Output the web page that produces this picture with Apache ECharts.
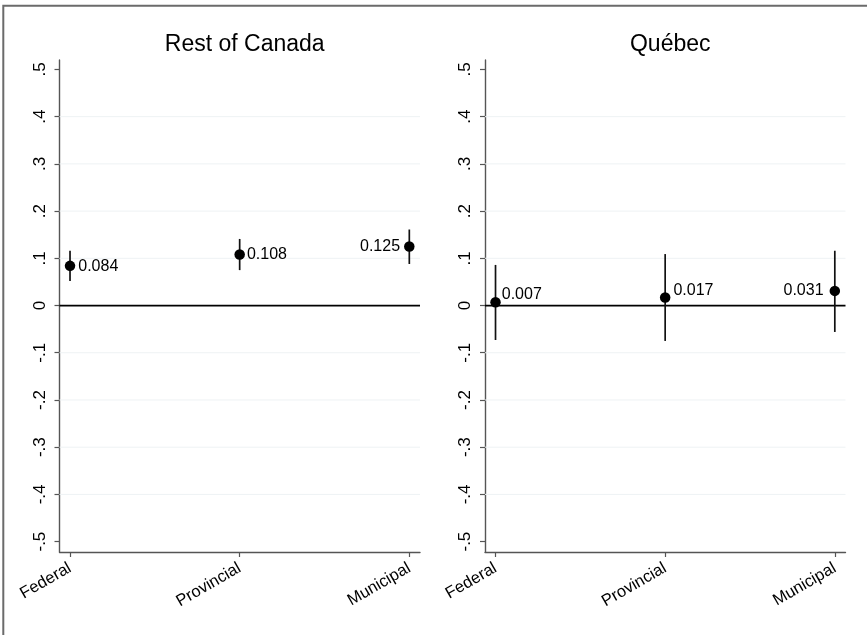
<!DOCTYPE html>
<html>
<head>
<meta charset="utf-8">
<title>Rest of Canada / Québec</title>
<script src="https://cdn.jsdelivr.net/npm/echarts@6/dist/echarts.min.js"></script>
<style>
  html, body { margin: 0; padding: 0; background: #fff; }
  #chart { width: 867px; height: 635px; }
</style>
</head>
<body>
<div id="chart"></div>
<script>
// Levels of government on the horizontal axis
const categories = ['Federal', 'Provincial', 'Municipal'];

// Point estimates with 95% confidence bounds, Rest of Canada
const canadaEst = [0.084, 0.108, 0.125];
const canadaLo = [0.052, 0.075, 0.088];
const canadaHi = [0.116, 0.141, 0.161];

// Point estimates with 95% confidence bounds, Québec
const quebecEst = [0.007, 0.017, 0.031];
const quebecLo = [-0.073, -0.075, -0.056];
const quebecHi = [0.086, 0.109, 0.116];

// Vertical axis ticks and light reference lines
const yTicks = [-0.5, -0.4, -0.3, -0.2, -0.1, 0, 0.1, 0.2, 0.3, 0.4, 0.5];
const yGrid = [-0.4, -0.3, -0.2, -0.1, 0.1, 0.2, 0.3, 0.4];
const zeroLine = [0];
const xTicks = [1, 2, 3];

const FONT = '"Liberation Sans", Arial, Helvetica, sans-serif';
const AXIS_COLOR = '#555555';

// Stata-style tick text: ".5", "-.3", "0"
function fmtTick(v) {
  const r = Math.round(v * 10) / 10;
  if (r === 0) return '0';
  return String(r).replace('0.', '.');
}

const panels = [
  { title: 'Rest of Canada', est: canadaEst, lo: canadaLo, hi: canadaHi, left: 59.5,
    labels: [
      { position: 'right', distance: 3, offset: [0, 1] },
      { position: 'right', distance: 2, offset: [0, 0] },
      { position: 'left', distance: 4, offset: [0, 0] }
    ] },
  { title: 'Québec', est: quebecEst, lo: quebecLo, hi: quebecHi, left: 485,
    labels: [
      { position: 'right', distance: 1, offset: [0, -8] },
      { position: 'right', distance: 3, offset: [0, -7] },
      { position: 'left', distance: 6, offset: [0, 0] }
    ] }
];

const GRID_TOP = 60, GRID_H = 492, GRID_W = 360.5;

// horizontal rule spanning the whole plot area at a given value
function hRule(color, width) {
  return (params, api) => {
    const cs = params.coordSys;
    const y = api.coord([1, api.value(0)])[1];
    return {
      type: 'line',
      shape: { x1: cs.x, y1: y, x2: cs.x + cs.width, y2: y },
      style: { stroke: color, lineWidth: width }
    };
  };
}

const option = {
  backgroundColor: '#fff',
  animation: false,
  textStyle: { fontFamily: FONT },
  title: panels.map(p => ({
    text: p.title,
    left: p.left + GRID_W / 2,
    top: 28,
    textAlign: 'center',
    textStyle: { fontFamily: FONT, fontSize: 23, fontWeight: 'normal', color: '#000' }
  })),
  grid: panels.map(p => ({ left: p.left, top: GRID_TOP, width: GRID_W, height: GRID_H })),
  xAxis: panels.map((p, i) => ({
    type: 'value',
    gridIndex: i,
    min: 0.938,
    max: 3.063,
    axisLine: { show: true, onZero: false, lineStyle: { color: AXIS_COLOR, width: 1.4 } },
    axisTick: { show: true, length: 5, customValues: xTicks, lineStyle: { color: AXIS_COLOR, width: 1.2 } },
    axisLabel: {
      customValues: xTicks,
      rotate: 30,
      margin: 15,
      fontSize: 16.5,
      color: '#000',
      fontFamily: FONT,
      formatter: v => categories[Math.round(v) - 1]
    },
    splitLine: { show: false }
  })),
  yAxis: panels.map((p, i) => ({
    type: 'value',
    gridIndex: i,
    min: -0.522,
    max: 0.52,
    axisLine: { show: true, onZero: false, lineStyle: { color: AXIS_COLOR, width: 1.4 } },
    axisTick: { show: true, length: 5, customValues: yTicks, lineStyle: { color: AXIS_COLOR, width: 1.2 } },
    axisLabel: {
      customValues: yTicks,
      rotate: 90,
      margin: 11,
      fontSize: 17,
      color: '#000',
      fontFamily: FONT,
      formatter: fmtTick
    },
    splitLine: { show: false }
  })),
  graphic: [{
    type: 'rect',
    shape: { x: 3.3, y: 5.7, width: 900, height: 700 },
    style: { fill: 'none', stroke: '#6b6b6b', lineWidth: 2 },
    silent: true,
    z: 100
  }],
  series: []
};

panels.forEach((p, i) => {
  // light reference lines
  option.series.push({
    type: 'custom',
    xAxisIndex: i,
    yAxisIndex: i,
    z: 1,
    silent: true,
    data: yGrid.map(v => [v]),
    encode: { y: 0 },
    renderItem: hRule('#eef2f4', 1)
  });
  // solid line at zero
  option.series.push({
    type: 'custom',
    xAxisIndex: i,
    yAxisIndex: i,
    z: 2,
    silent: true,
    data: zeroLine.map(v => [v]),
    encode: { y: 0 },
    renderItem: hRule('#000', 1.8)
  });
  // confidence interval spikes
  option.series.push({
    type: 'custom',
    xAxisIndex: i,
    yAxisIndex: i,
    z: 3,
    silent: true,
    data: categories.map((c, k) => [k + 1, p.lo[k], p.hi[k]]),
    encode: { x: 0, y: [1, 2] },
    renderItem: (params, api) => {
      const x = api.value(0);
      const a = api.coord([x, api.value(1)]);
      const b = api.coord([x, api.value(2)]);
      return {
        type: 'line',
        shape: { x1: a[0], y1: a[1], x2: b[0], y2: b[1] },
        style: { stroke: '#111', lineWidth: 1.7 }
      };
    }
  });
  // point estimates with their value labels
  option.series.push({
    type: 'scatter',
    xAxisIndex: i,
    yAxisIndex: i,
    z: 4,
    symbol: 'circle',
    symbolSize: 10.5,
    itemStyle: { color: '#000', opacity: 1 },
    label: {
      show: true,
      fontSize: 16,
      color: '#000',
      fontFamily: FONT,
      formatter: d => d.value[1].toFixed(3)
    },
    data: p.est.map((v, k) => ({ value: [k + 1, v], label: p.labels[k] }))
  });
});

const chart = echarts.init(document.getElementById('chart'), null, { renderer: 'canvas' });
chart.setOption(option);
</script>
</body>
</html>
